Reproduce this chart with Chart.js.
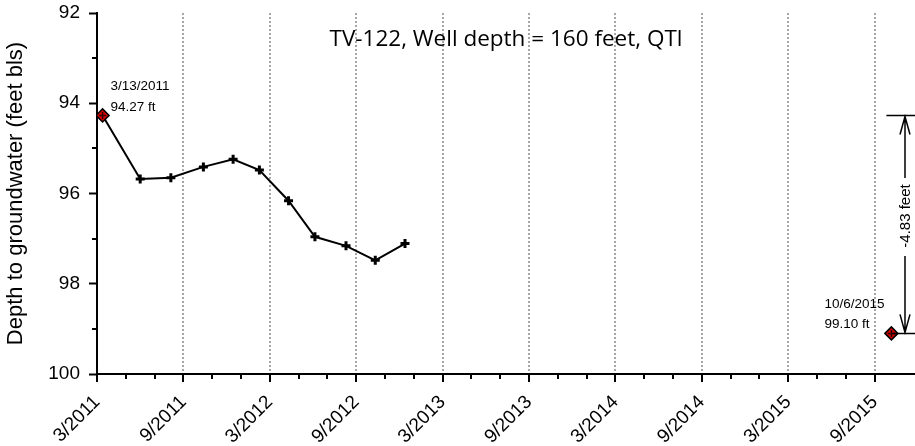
<!DOCTYPE html>
<html>
<head>
<meta charset="utf-8">
<script src="https://cdn.jsdelivr.net/npm/chart.js@4.4.0/dist/chart.umd.min.js"></script>
<style>
  html, body { margin: 0; padding: 0; background: #fff; overflow: hidden; }
  #wrap { width: 915px; height: 446px; }
</style>
</head>
<body>
<div id="wrap"><canvas id="chart" width="915" height="446"></canvas></div>
<script>
// Water levels measured in well TV-122
const sampleDates = ['3/13/2011', '6/1/2011', '8/5/2011', '10/13/2011', '12/15/2011', '2/9/2012',
                     '4/10/2012', '6/5/2012', '8/10/2012', '10/11/2012', '12/13/2012'];
const depthToWater = [94.27, 95.68, 95.65, 95.41, 95.24, 95.48, 96.16, 96.96, 97.16, 97.48, 97.11];

// first and latest measurement, marked with a red diamond and labelled
const markedDates = ['3/13/2011', '10/6/2015'];
const markedDepths = [94.27, 99.10];

const xTickLabels = ['3/2011', '9/2011', '3/2012', '9/2012', '3/2013',
                     '9/2013', '3/2014', '9/2014', '3/2015', '9/2015'];
const yTickLabels = [92, 94, 96, 98, 100];

const chartTitle = 'TV-122, Well depth = 160 feet, QTl';
const yAxisTitle = 'Depth to groundwater (feet bls)';

const FONT = "'Liberation Sans', Arial, sans-serif";

// x axis is counted in months since 3/1/2011
function monthIndex(s) {
    const [m, d, y] = s.split('/').map(Number);
    const days = new Date(y, m, 0).getDate();
    return (y - 2011) * 12 + (m - 3) + (d - 1) / days;
}

const linePoints = sampleDates.map((d, i) => ({ x: monthIndex(d), y: depthToWater[i] }));
const markedPoints = markedDates.map((d, i) => ({ x: monthIndex(d), y: markedDepths[i] }));

// short ticks between the labelled ones
const minorTicks = {
    id: 'minorTicks',
    afterDraw(chart) {
        const { ctx, chartArea } = chart;
        const { x, y } = chart.scales;
        ctx.save();
        ctx.strokeStyle = '#000';
        ctx.lineWidth = 2;
        ctx.beginPath();
        x.ticks.forEach(t => {
            if (t.value % 2 === 0 && t.value % 6 !== 0) {
                const px = Math.round(x.getPixelForValue(t.value));
                ctx.moveTo(px, chartArea.bottom);
                ctx.lineTo(px, chartArea.bottom + 5);
            }
        });
        y.ticks.forEach(t => {
            if (!yTickLabels.includes(t.value)) {
                const py = Math.round(y.getPixelForValue(t.value));
                ctx.moveTo(chartArea.left, py);
                ctx.lineTo(chartArea.left - 5, py);
            }
        });
        ctx.stroke();
        ctx.restore();
    }
};

function arrowHead(ctx, x, y, dir) {
    ctx.moveTo(x - 5, y + dir * 18);
    ctx.lineTo(x, y);
    ctx.lineTo(x + 5, y + dir * 18);
}

// title, point labels and the change bracket on the right
const annotations = {
    id: 'annotations',
    afterDatasetsDraw(chart) {
        const { ctx, chartArea } = chart;
        const { x, y } = chart.scales;
        ctx.save();
        ctx.fillStyle = '#000';

        ctx.font = "22.5px 'Open Sans', sans-serif";
        ctx.textAlign = 'center';
        ctx.textBaseline = 'alphabetic';
        ctx.fillText(chartTitle, (chartArea.left + chartArea.right) / 2, 46);

        ctx.font = '13.5px ' + FONT;
        ctx.textAlign = 'left';
        const p0x = x.getPixelForValue(markedPoints[0].x), p0y = y.getPixelForValue(markedPoints[0].y);
        ctx.fillText(markedDates[0], p0x + 8, p0y - 25.5);
        ctx.fillText(markedDepths[0].toFixed(2) + ' ft', p0x + 8, p0y - 4.5);
        const p1x = x.getPixelForValue(markedPoints[1].x), p1y = y.getPixelForValue(markedPoints[1].y);
        ctx.fillText(markedDates[1], p1x - 67, p1y - 25);
        ctx.fillText(markedDepths[1].toFixed(2) + ' ft', p1x - 67, p1y - 5);

        // bracket showing the change between the two marked readings
        const ax = chartArea.right - 10;
        const midY = 216;
        ctx.strokeStyle = '#000';
        ctx.lineWidth = 1.5;
        ctx.beginPath();
        ctx.moveTo(p1x - 5, p0y); ctx.lineTo(chartArea.right, p0y);
        ctx.moveTo(p1x, p1y); ctx.lineTo(chartArea.right, p1y);
        ctx.moveTo(ax, p0y); ctx.lineTo(ax, midY - 38);
        ctx.moveTo(ax, midY + 40); ctx.lineTo(ax, p1y);
        arrowHead(ctx, ax, p0y + 1, 1);
        arrowHead(ctx, ax, p1y - 1, -1);
        ctx.stroke();

        const change = (markedDepths[0] - markedDepths[1]).toFixed(2);
        ctx.font = '15px ' + FONT;
        ctx.translate(ax + 1, midY);
        ctx.rotate(-Math.PI / 2);
        ctx.textAlign = 'center';
        ctx.textBaseline = 'middle';
        ctx.fillText(change + ' feet', 0, 0);
        ctx.restore();
    }
};

new Chart(document.getElementById('chart'), {
    type: 'line',
    data: {
        datasets: [
            {
                label: 'Depth to groundwater',
                data: linePoints,
                borderColor: '#000',
                borderWidth: 2,
                tension: 0,
                pointStyle: 'cross',
                pointRadius: 4.5,
                pointBorderWidth: 3,
                pointBorderColor: '#000',
                order: 3
            },
            {
                label: 'Marked',
                data: markedPoints,
                showLine: false,
                pointStyle: 'rectRot',
                pointRadius: 6.5,
                pointBackgroundColor: '#d40000',
                pointBorderColor: '#000',
                pointBorderWidth: 1.5,
                order: 2
            },
            {
                label: 'Marked cross',
                data: markedPoints,
                showLine: false,
                pointStyle: 'cross',
                pointRadius: 3.5,
                pointBorderColor: '#300',
                pointBorderWidth: 1.5,
                order: 1
            }
        ]
    },
    options: {
        responsive: false,
        animation: false,
        events: [],
        layout: { autoPadding: false, padding: { top: 13, right: 0, bottom: 0, left: 0 } },
        plugins: {
            legend: { display: false },
            tooltip: { enabled: false }
        },
        scales: {
            x: {
                type: 'linear',
                min: 0,
                max: 56.8,
                afterFit: s => { s.height = 72; s.paddingLeft = 0; s.paddingRight = 0; },
                ticks: {
                    stepSize: 2,
                    autoSkip: false,
                    maxRotation: 45,
                    minRotation: 45,
                    padding: 9,
                    color: '#000',
                    font: { family: FONT, size: 19 },
                    callback: v => (v % 6 === 0 ? xTickLabels[v / 6] : '')
                },
                grid: {
                    color: c => (c.tick && c.tick.value % 6 === 0 && c.tick.value > 0 ? '#a6a6a6' : 'transparent'),
                    lineWidth: 2,
                    tickLength: 8,
                    tickWidth: 2,
                    tickColor: c => (c.tick && c.tick.value % 6 === 0 ? '#000' : 'transparent')
                },
                border: { color: '#000', width: 2, dash: [2, 2] }
            },
            y: {
                min: 92,
                max: 100,
                reverse: true,
                afterFit: s => { s.width = 97; s.paddingTop = 0; s.paddingBottom = 0; },
                ticks: {
                    stepSize: 1,
                    autoSkip: false,
                    padding: 9,
                    color: '#000',
                    font: { family: FONT, size: 19 },
                    callback: v => (yTickLabels.includes(v) ? String(v) : '')
                },
                grid: {
                    drawOnChartArea: false,
                    tickLength: 8,
                    tickWidth: 2,
                    tickColor: c => (c.tick && yTickLabels.includes(c.tick.value) ? '#000' : 'transparent')
                },
                border: { color: '#000', width: 2 },
                title: {
                    display: true,
                    text: yAxisTitle,
                    color: '#000',
                    font: { family: FONT, size: 22 },
                    padding: { top: 3, bottom: 0 }
                }
            }
        }
    },
    plugins: [minorTicks, annotations]
});
</script>
</body>
</html>
